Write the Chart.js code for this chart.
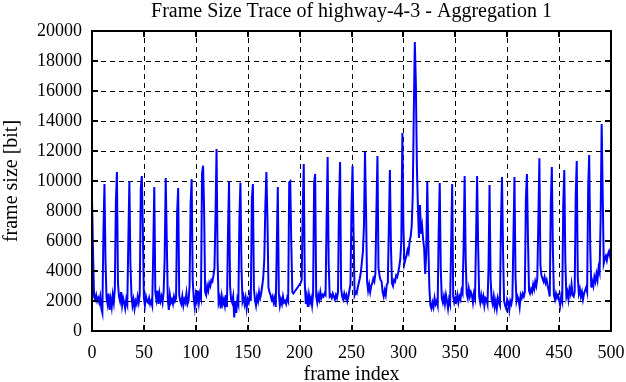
<!DOCTYPE html>
<html>
<head>
<meta charset="utf-8">
<script src="https://cdn.jsdelivr.net/npm/chart.js@4/dist/chart.umd.min.js"></script>
<style>
  html, body { margin: 0; padding: 0; background: #fff; }
  #wrap { width: 626px; height: 382px; position: relative; }
</style>
</head>
<body>
<div id="wrap"><canvas id="c"></canvas></div>
<script>
// ---- data ----
const chartTitle = "Frame Size Trace of highway-4-3 - Aggregation 1";
const xAxisTitle = "frame index";
const yAxisTitle = "frame size [bit]";
const xTickValues = [0, 50, 100, 150, 200, 250, 300, 350, 400, 450, 500];
const yTickValues = [0, 2000, 4000, 6000, 8000, 10000, 12000, 14000, 16000, 18000, 20000];
// frame sizes in bit, one value per frame index 0..500
const frameSizes = [
  8800,5200,2300,2100,2400,2000,2200,1900,2300,1500,
  1200,6500,9800,4700,2200,1800,2500,1400,2100,1600,
  2400,1900,2800,8500,10600,3200,2300,2000,2600,1700,
  2200,1900,1500,2100,1800,6000,10000,4500,2400,1700,
  2100,1500,2000,1800,2300,1900,2400,9500,10330,6800,
  2200,1700,2300,2000,1900,2200,1800,2000,1700,5300,
  9600,2600,2100,2700,1800,2500,2000,2300,1900,2600,
  4800,10200,6200,2100,1400,2400,1900,2100,1800,2300,
  2000,2200,7800,9530,2400,2000,1800,2300,1700,2100,
  1900,2500,1800,2000,3000,8500,10130,3400,2200,1600,
  2400,2000,2700,1900,2500,2200,10500,11020,8100,2600,
  2400,3000,2700,3200,3000,3400,3300,3700,4200,7800,
  12130,4700,1900,2200,1500,2300,1800,2100,1700,2400,
  1600,6500,9960,3000,2100,1900,2300,900,2000,1200,
  2100,1800,7500,9890,4200,2000,2300,1800,2200,1500,
  2100,1900,2400,2000,8800,9800,2800,2100,1700,2300,
  2000,2600,2200,2500,3000,3600,4800,8300,10600,7500,
  2900,2600,2400,2100,2300,1900,2200,1600,5500,9600,
  2500,1700,2100,1800,2300,1900,2000,1800,2200,2000,
  9900,9980,5800,2600,2500,2600,2700,2800,2900,3000,
  3100,3200,3400,7800,11130,3200,1800,2300,1600,2400,
  1900,2200,1700,2500,9900,10470,2300,1900,2400,2100,
  2600,2200,2400,2300,2500,2400,7300,11600,4500,2300,
  2400,2200,2500,2300,2100,2400,2200,2600,8600,11270,
  2800,2300,2100,2500,2200,2400,2000,2300,2700,3100,
  8200,11020,6500,2400,2600,2500,2900,3200,3500,3900,
  4600,5300,7000,11930,8000,3300,2700,3100,2600,3000,
  3200,3500,3300,3800,8000,11670,4200,3700,3400,3300,
  2600,2300,2700,2400,3100,3200,7000,10730,5600,3200,
  3000,3400,3300,3700,3600,3900,4300,4800,6000,13200,
  7000,4500,4800,5000,5400,5200,6000,6300,7000,9000,
  14500,19270,16500,11000,8200,6200,8400,6500,7000,6100,
  5500,3800,5200,9930,5800,2900,1700,1500,1900,1600,
  2200,1800,2000,1700,6600,9870,4100,2200,1900,2300,
  1800,2400,2000,1500,2100,1800,5700,9800,2300,1900,
  2200,2000,2400,1900,2300,2100,2700,2500,5600,10330,
  4800,2500,2200,2800,2300,2600,2400,1900,2500,2200,
  6200,10330,5700,2300,1900,2400,2000,2300,1700,2200,
  2100,1800,4200,9730,3500,2100,1800,2300,1600,2000,
  1500,2200,1900,1700,7200,10270,5300,2000,1700,1500,
  2100,1900,1400,2000,1800,2200,6200,10270,3600,2000,
  2300,2100,1600,2400,2200,2500,2300,2600,8800,10470,
  6200,2700,2500,2800,2600,3100,2800,3300,3000,3500,
  7300,11510,4400,3700,3500,3300,3600,3200,3400,3000,
  2700,2300,8500,10930,5500,2400,2100,2500,2200,2400,
  2100,1700,2300,2000,8400,10730,4700,2300,2600,2100,
  2800,2500,3100,2400,2300,2600,9000,11330,3600,2500,
  2800,2300,2600,2100,2500,2700,2900,2600,9500,11730,
  5600,2900,3300,3000,3600,3300,3800,3400,4200,3900,
  7400,13800,9200,4500,4800,5000,4700,5100,5300,5000,
  5600
];

const FONT = "'Liberation Serif', 'Times New Roman', serif";

const framePlugin = {
  id: 'gnuFrame',
  beforeDatasetsDraw(chart) {
    const { ctx, chartArea: a, scales: { x, y } } = chart;
    ctx.save();
    ctx.strokeStyle = '#000';
    ctx.lineWidth = 1;
    ctx.setLineDash([5, 4]);
    xTickValues.forEach(v => {
      if (v <= x.min || v >= x.max) return;
      const px = Math.round(x.getPixelForValue(v)) + 0.5;
      ctx.beginPath(); ctx.moveTo(px, a.bottom); ctx.lineTo(px, a.top); ctx.stroke();
    });
    yTickValues.forEach(v => {
      if (v <= y.min || v >= y.max) return;
      const py = Math.round(y.getPixelForValue(v)) + 0.5;
      ctx.beginPath(); ctx.moveTo(a.left, py); ctx.lineTo(a.right, py); ctx.stroke();
    });
    ctx.restore();
  },
  afterDatasetsDraw(chart) {
    const { ctx, chartArea: a, scales: { x, y } } = chart;
    ctx.save();
    ctx.strokeStyle = '#000';
    ctx.lineWidth = 2;
    ctx.setLineDash([]);
    const L = 6;
    xTickValues.forEach(v => {
      const px = Math.round(x.getPixelForValue(v));
      ctx.beginPath(); ctx.moveTo(px, a.bottom); ctx.lineTo(px, a.bottom - L); ctx.stroke();
      ctx.beginPath(); ctx.moveTo(px, a.top); ctx.lineTo(px, a.top + L); ctx.stroke();
    });
    yTickValues.forEach(v => {
      const py = Math.round(y.getPixelForValue(v));
      ctx.beginPath(); ctx.moveTo(a.left, py); ctx.lineTo(a.left + L, py); ctx.stroke();
      ctx.beginPath(); ctx.moveTo(a.right, py); ctx.lineTo(a.right - L, py); ctx.stroke();
    });
    ctx.strokeRect(Math.round(a.left), Math.round(a.top), Math.round(a.right - a.left), Math.round(a.bottom - a.top));
    // chart title centred over the plot area
    ctx.fillStyle = '#000';
    ctx.font = "20px " + FONT;
    ctx.textAlign = 'center';
    ctx.textBaseline = 'middle';
    ctx.fillText(chartTitle, (a.left + a.right) / 2, 12);
    ctx.restore();
  }
};

new Chart(document.getElementById('c'), {
  type: 'line',
  data: {
    datasets: [{
      data: frameSizes.map((v, i) => ({ x: i, y: v })),
      borderColor: '#0000ff',
      borderWidth: 2,
      pointRadius: 0,
      tension: 0,
      fill: false
    }]
  },
  options: {
    responsive: true,
    maintainAspectRatio: false,
    animation: false,
    devicePixelRatio: 1,
    layout: { padding: { left: 0, right: 15, top: 31, bottom: 0 } },
    plugins: {
      legend: { display: false },
      tooltip: { enabled: false },
      title: { display: false }
    },
    scales: {
      x: {
        type: 'linear',
        min: 0, max: 500,
        afterBuildTicks(s) { s.ticks = xTickValues.map(v => ({ value: v })); },
        afterFit(s) { s.height = 51; s.paddingLeft = 0; s.paddingRight = 0; },
        grid: { display: false, drawTicks: false, tickLength: 0 },
        border: { display: false },
        ticks: { color: '#000', font: { family: FONT, size: 18 }, padding: 11, maxRotation: 0, autoSkip: false,
                 callback: v => String(v) },
        title: { display: true, text: xAxisTitle, color: '#000', font: { family: FONT, size: 20 }, padding: { top: 0, bottom: -5 } }
      },
      y: {
        type: 'linear',
        min: 0, max: 20000,
        afterBuildTicks(s) { s.ticks = yTickValues.map(v => ({ value: v })); },
        afterFit(s) { s.width = 92; s.paddingTop = 0; s.paddingBottom = 0; },
        grid: { display: false, drawTicks: false, tickLength: 0 },
        border: { display: false },
        ticks: { color: '#000', font: { family: FONT, size: 18 }, padding: 10, autoSkip: false,
                 callback: v => String(v) },
        title: { display: true, text: yAxisTitle, color: '#000', font: { family: FONT, size: 20 }, padding: { top: 0, bottom: 0 } }
      }
    }
  },
  plugins: [framePlugin]
});
</script>
</body>
</html>
